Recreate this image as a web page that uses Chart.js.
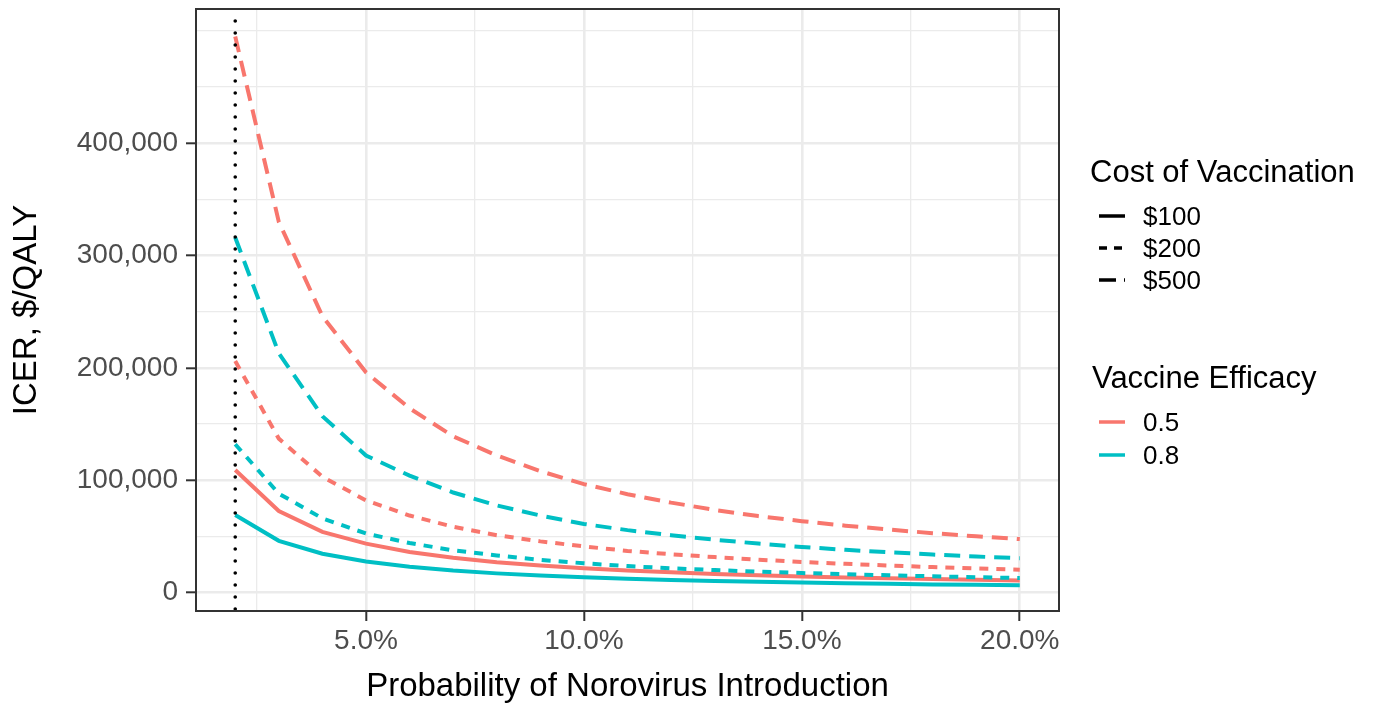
<!DOCTYPE html>
<html>
<head>
<meta charset="utf-8">
<script src="https://cdn.jsdelivr.net/npm/chart.js@4.4.0/dist/chart.umd.min.js"></script>
<style>
  html, body { margin: 0; padding: 0; background: #fff; }
  #wrap { position: relative; width: 1374px; height: 709px; font-family: 'Liberation Sans', Arial, sans-serif; color: #000; }
  #myChart { position: absolute; left: 0; top: 0; }
  .ltitle { position: absolute; font-size: 31px; line-height: 1; white-space: nowrap; transform: translateY(-50%); }
  .litem { position: absolute; font-size: 26px; line-height: 1; white-space: nowrap; transform: translateY(-50%); display: flex; align-items: center; }
  .litem svg { margin-right: 18px; }
</style>
</head>
<body>
<div id="wrap">
  <canvas id="myChart" width="1374" height="709"></canvas>

  <div class="ltitle" style="left:1090px; top:171px;">Cost of Vaccination</div>
  <div class="litem" style="left:1099px; top:216px;">
    <svg width="26" height="6"><line x1="0" y1="3" x2="26" y2="3" stroke="#000" stroke-width="3.5"/></svg>$100</div>
  <div class="litem" style="left:1099px; top:248px;">
    <svg width="26" height="6"><line x1="0" y1="3" x2="26" y2="3" stroke="#000" stroke-width="3.5" stroke-dasharray="8 7"/></svg>$200</div>
  <div class="litem" style="left:1099px; top:280px;">
    <svg width="26" height="6"><line x1="0" y1="3" x2="26" y2="3" stroke="#000" stroke-width="3.5" stroke-dasharray="17 8"/></svg>$500</div>

  <div class="ltitle" style="left:1092px; top:377px;">Vaccine Efficacy</div>
  <div class="litem" style="left:1099px; top:422px;">
    <svg width="26" height="6"><line x1="0" y1="3" x2="26" y2="3" stroke="#F8766D" stroke-width="3.5"/></svg>0.5</div>
  <div class="litem" style="left:1099px; top:455px;">
    <svg width="26" height="6"><line x1="0" y1="3" x2="26" y2="3" stroke="#00BFC4" stroke-width="3.5"/></svg>0.8</div>
</div>

<script>
// probability of norovirus introduction (%)
const pct = [2, 3, 4, 5, 6, 7, 8, 9, 10, 11, 12, 13, 14, 15, 16, 17, 18, 19, 20];

// ICER ($/QALY), efficacy 0.5
const red100 = [109000, 72500, 54000, 43500, 36000, 31000, 27000, 24000, 21500, 19500, 18000, 16500, 15300, 14300, 13400, 12600, 11900, 11300, 10700];
const red200 = [206000, 137000, 103000, 82000, 68500, 58500, 51000, 45500, 41000, 37000, 34000, 31500, 29200, 27200, 25500, 24000, 22600, 21400, 20300];
const red500 = [495000, 330000, 246000, 196000, 164000, 139000, 122000, 108000, 96500, 87500, 80000, 73500, 68000, 63500, 59500, 56000, 52800, 50000, 47500];

// ICER ($/QALY), efficacy 0.8
const teal100 = [69000, 46000, 34500, 27500, 23000, 19500, 17000, 15000, 13500, 12300, 11200, 10300, 9500, 8800, 8200, 7700, 7200, 6800, 6500];
const teal200 = [132000, 88000, 66000, 52500, 44000, 37500, 33000, 29000, 26000, 23500, 21500, 20000, 18500, 17300, 16300, 15300, 14400, 13600, 12900];
const teal500 = [316000, 213000, 157000, 122000, 104000, 89000, 77500, 68500, 61000, 55500, 51000, 47000, 43500, 40500, 38000, 35800, 33800, 32000, 30500];

const xTicks = [2.5, 5, 7.5, 10, 12.5, 15, 17.5, 20];
const xLabels = [5, 10, 15, 20];
const yTicks = [0, 50000, 100000, 150000, 200000, 250000, 300000, 350000, 400000, 450000, 500000];
const yLabels = [0, 100000, 200000, 300000, 400000];
const refLine = 2;

const RED = '#F8766D';
const TEAL = '#00BFC4';
const dashes = { '100': [], '200': [9, 8], '500': [16, 9] };

function series(label, values, color, cost) {
    return {
        label: label,
        data: pct.map((p, i) => ({ x: p, y: values[i] })),
        borderColor: color,
        borderWidth: 4,
        borderDash: dashes[cost],
        pointRadius: 0,
        tension: 0,
        fill: false
    };
}

const frame = {
    id: 'frame',
    afterDatasetsDraw(chart) {
        const { ctx, chartArea, scales } = chart;
        const x = scales.x.getPixelForValue(refLine);
        ctx.save();
        ctx.strokeStyle = '#000';
        ctx.lineWidth = 3.6;
        ctx.lineCap = 'round';
        ctx.setLineDash([0, 12]);
        ctx.beginPath();
        ctx.moveTo(x, chartArea.bottom - 2);
        ctx.lineTo(x, chartArea.top);
        ctx.stroke();
        ctx.restore();
    },
    afterDraw(chart) {
        const { ctx, chartArea } = chart;
        ctx.save();
        ctx.strokeStyle = '#333333';
        ctx.lineWidth = 2;
        ctx.strokeRect(chartArea.left, chartArea.top, chartArea.right - chartArea.left, chartArea.bottom - chartArea.top);
        ctx.restore();
    }
};

const font = "'Liberation Sans', Arial, sans-serif";

const ctx = document.getElementById('myChart').getContext('2d');
const chart = new Chart(ctx, {
    type: 'line',
    data: {
        datasets: [
            series('$500, 0.5', red500, RED, '500'),
            series('$500, 0.8', teal500, TEAL, '500'),
            series('$200, 0.5', red200, RED, '200'),
            series('$200, 0.8', teal200, TEAL, '200'),
            series('$100, 0.5', red100, RED, '100'),
            series('$100, 0.8', teal100, TEAL, '100')
        ]
    },
    options: {
        responsive: false,
        animation: false,
        devicePixelRatio: 1,
        layout: { padding: { left: 0, top: 9, right: 315, bottom: 0 } },
        plugins: {
            legend: { display: false },
            tooltip: { enabled: false }
        },
        scales: {
            x: {
                type: 'linear',
                min: 1.1,
                max: 20.9,
                afterBuildTicks: s => { s.ticks = xTicks.map(v => ({ value: v })); },
                afterFit: s => { s.height = 98; s.paddingLeft = 0; s.paddingRight = 0; },
                border: { display: false },
                grid: {
                    color: '#EBEBEB',
                    lineWidth: c => xLabels.includes(c.tick.value) ? 2.6 : 1.3,
                    tickColor: c => xLabels.includes(c.tick.value) ? '#333333' : 'rgba(0,0,0,0)',
                    tickWidth: 2,
                    tickLength: 10
                },
                ticks: {
                    autoSkip: false,
                    maxRotation: 0,
                    padding: 3,
                    color: '#4D4D4D',
                    font: { family: font, size: 28 },
                    callback: v => xLabels.includes(v) ? v.toFixed(1) + '%' : ''
                },
                title: {
                    display: true,
                    text: 'Probability of Norovirus Introduction',
                    color: '#000',
                    font: { family: font, size: 33 },
                    padding: { top: 0, bottom: 2 }
                }
            },
            y: {
                min: -16500,
                max: 519500,
                afterBuildTicks: s => { s.ticks = yTicks.map(v => ({ value: v })); },
                afterFit: s => { s.width = 196; s.paddingTop = 0; s.paddingBottom = 0; },
                border: { display: false },
                grid: {
                    color: '#EBEBEB',
                    lineWidth: c => yLabels.includes(c.tick.value) ? 2.6 : 1.3,
                    tickColor: c => yLabels.includes(c.tick.value) ? '#333333' : 'rgba(0,0,0,0)',
                    tickWidth: 2,
                    tickLength: 10
                },
                ticks: {
                    autoSkip: false,
                    padding: 8,
                    color: '#4D4D4D',
                    font: { family: font, size: 28 },
                    callback: v => yLabels.includes(v) ? v.toLocaleString('en-US') : ''
                },
                title: {
                    display: true,
                    text: 'ICER, $/QALY',
                    color: '#000',
                    font: { family: font, size: 33 },
                    padding: { top: 7, bottom: 0 }
                }
            }
        }
    },
    plugins: [frame]
});
</script>
</body>
</html>
